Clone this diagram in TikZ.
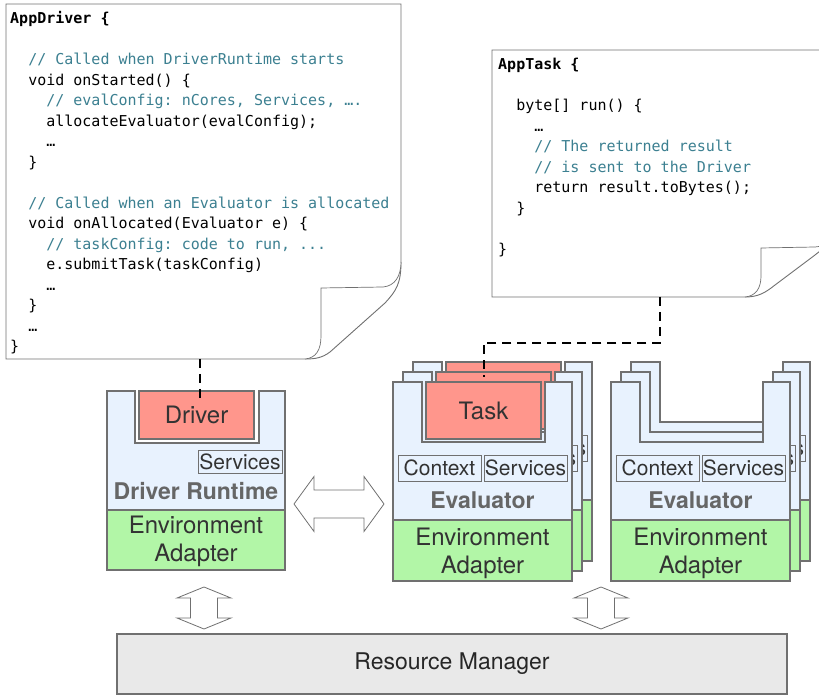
\documentclass[tikz,border=0pt]{standalone}
\usepackage{fontspec}
\setmainfont{TeX Gyre Heros}
\setmonofont{DejaVu Sans Mono}
\usepackage{tikz}
\usepackage{xcolor}
\usetikzlibrary{positioning, calc}
\definecolor{cRuntime}{RGB}{232,242,254}
\definecolor{cTask}{RGB}{255,150,140}
\definecolor{cEnv}{RGB}{178,246,167}
\definecolor{cRM}{RGB}{233,233,233}
\definecolor{cEdge}{RGB}{112,112,112}
\definecolor{cLabel}{RGB}{102,102,102}
\definecolor{cText}{RGB}{51,51,51}
\definecolor{cComment}{RGB}{60,128,145}
\newcommand\codefont{\fontsize{15}{20.5}\selectfont\ttfamily}
\newcommand\tb{\hphantom{xx}}
\newcommand\cmt[1]{\textcolor{cComment}{#1}}
\tikzset{
	page/.style     ={draw=cEdge, fill=white, line width=0.9pt},
	codetext/.style ={anchor=north west, inner sep=0pt, align=left, font=\codefont},
	runtime/.style  ={draw=cEdge, fill=cRuntime, line width=1.2pt},
	env/.style      ={draw=cEdge, fill=cEnv, line width=1.2pt},
	taskbox/.style  ={rectangle, draw=cEdge, fill=cTask, line width=1.2pt, minimum width=115pt, minimum height=57pt, font=\fontsize{24}{28}\selectfont, text=cText},
	svcbox/.style   ={rectangle, draw=cEdge, fill=cRuntime, line width=0.9pt, minimum width=83pt, minimum height=26pt, inner sep=0pt, font=\fontsize{21}{24}\selectfont, text=cText},
	rtlabel/.style  ={font=\fontsize{23}{26}\selectfont\bfseries, text=cLabel},
	envtext/.style  ={align=center, font=\fontsize{24}{28}\selectfont, text=cText},
	rmbox/.style    ={rectangle, draw=cEdge, fill=cRM, line width=1.2pt, minimum width=670pt, minimum height=60pt, font=\fontsize{23}{26}\selectfont, text=black!85},
	blockarrow/.style={draw=cEdge, fill=white, line width=0.8pt},
	dashlink/.style ={draw=black, line width=2pt, dash pattern=on 9pt off 6pt},
}
% one evaluator layer: x, y of its top left corner, name suffix;
% only the front layer (suffix ending in 0) gets its labels
\newcommand\evallayer[4]{%
	\begin{scope}[shift={(#1,#2)}]
		\draw[runtime] (0,0) -- (29,0) -- (29,-60) -- (152,-60) -- (152,0) -- (179,0) -- (179,-138) -- (0,-138) -- cycle;
		\draw[env] (0,-138) rectangle (179,-199);
		\node[svcbox] (svc#3) at (132.5,-86) {Services};
		\ifnum#4=0
			\node[svcbox] (ctx#3) at (46.5,-86) {Context};
			\node[rtlabel] (ev#3) at (89.5,-118) {Evaluator};
			\node[envtext] (env#3) at (89.5,-171) {Environment\\Adapter};
		\else
			\node[svcbox] (ctx#3) at (46.5,-86) {};
		\fi
	\end{scope}}
\newcommand\hlinkarrow[1]{\draw[blockarrow, shift={(#1)}] (-45,0) -- (-25,27.5) -- (-25,14) -- (25,14) -- (25,27.5) -- (45,0) -- (25,-27.5) -- (25,-14) -- (-25,-14) -- (-25,-27.5) -- cycle;}
\newcommand\vlinkarrow[1]{\draw[blockarrow, shift={(#1)}] (0,21) -- (27,10) -- (13.5,10) -- (13.5,-10) -- (27,-10) -- (0,-21) -- (-27,-10) -- (-13.5,-10) -- (-13.5,10) -- (-27,10) -- cycle;}

\begin{document}
\begin{tikzpicture}[x=1pt, y=1pt]
	\useasboundingbox (0,0) rectangle (819,696);
	\clip (0,0) rectangle (819,696);

	% driver code page
	\draw[page] (6,692) -- (401,692) -- (401,434) .. controls (401,412) and (396,405) .. (385,393) -- (330,344) .. controls (322,338) and (315,337) .. (305,337) -- (6,337) -- cycle;
	\draw[page, line width=0.7pt] (305,337) .. controls (316,338) and (321,346) .. (321,360) -- (321,408) -- (383,409) .. controls (395,410) and (401,420) .. (401,434);
	\node[codetext] (drvcode) at (10,686.9) {\strut\textbf{AppDriver \{}\\ ~\\
		\tb\cmt{// Called when DriverRuntime starts}\\
		\tb void onStarted() \{\\
		\tb\tb\cmt{// evalConfig: nCores, Services, ….}\\
		\tb\tb allocateEvaluator(evalConfig);\\
		\tb\tb …\\
		\tb\}\\ ~\\
		\tb\cmt{// Called when an Evaluator is allocated}\\
		\tb void onAllocated(Evaluator e) \{\\
		\tb\tb\cmt{// taskConfig: code to run, ...}\\
		\tb\tb e.submitTask(taskConfig)\\
		\tb\tb …\\
		\tb\}\\
		\tb …\\
		\}};
	\coordinate (drvdoc) at (200,337);

	% task code page
	\draw[page] (492,646) -- (832,646) -- (832,456) .. controls (832,452) and (826,450) .. (815,441) -- (775,411) .. controls (765,403) and (758,399) .. (745,399) -- (492,399) -- cycle;
	\draw[page, line width=0.7pt] (745,399) .. controls (756,400) and (761,408) .. (761,420) -- (761,448) -- (815,449) .. controls (825,450) and (832,453) .. (832,456);
	\node[codetext] (taskcode) at (498,640.9) {\strut\textbf{AppTask \{}\\ ~\\
		\tb byte[] run() \{\\
		\tb\tb …\\
		\tb\tb\cmt{// The returned result}\\
		\tb\tb\cmt{// is sent to the Driver}\\
		\tb\tb return result.toBytes();\\
		\tb\}\\ ~\\
		\}};
	\coordinate (taskdoc) at (660,399);

	% driver runtime
	\begin{scope}[shift={(107,305)}]
		\draw[runtime] (0,0) -- (28,0) -- (28,-52) -- (152,-52) -- (152,0) -- (178,0) -- (178,-119) -- (0,-119) -- cycle;
		\draw[env] (0,-119) rectangle (178,-179);
		\node[taskbox, minimum height=48pt] (drv) at (89.5,-24) {Driver};
		\node[svcbox, minimum width=84pt, minimum height=23pt] (drvsvc) at (133,-70.5) {Services};
		\node[rtlabel] (drvrt) at (89,-100) {Driver Runtime};
		\node[envtext] (drvenv) at (89,-150) {Environment\\Adapter};
	\end{scope}

	% evaluators running tasks
	\foreach \k in {2,1,0} {
		\evallayer{393+10*\k}{314+10*\k}{a\k}{\k}
		\node[taskbox] (task\k) at (483.5+10*\k,285.5+10*\k) {\ifnum\k=0 Task\fi};
	}
	% idle evaluators
	\foreach \k in {2,1,0} {
		\evallayer{611+10*\k}{314+10*\k}{b\k}{\k}
	}

	\node[rmbox] (rm) at (452,32) {Resource Manager};

	\hlinkarrow{339,192}
	\vlinkarrow{204,88}
	\vlinkarrow{601,88}

	\draw[dashlink] (drvdoc) -- ($(drvdoc |- drv.north)+(0,-10)$);
	\draw[dashlink] (taskdoc) |- ($(task0.north)+(0,38)$) -- ($(task0.north)+(0,4)$);
\end{tikzpicture}
\end{document}
